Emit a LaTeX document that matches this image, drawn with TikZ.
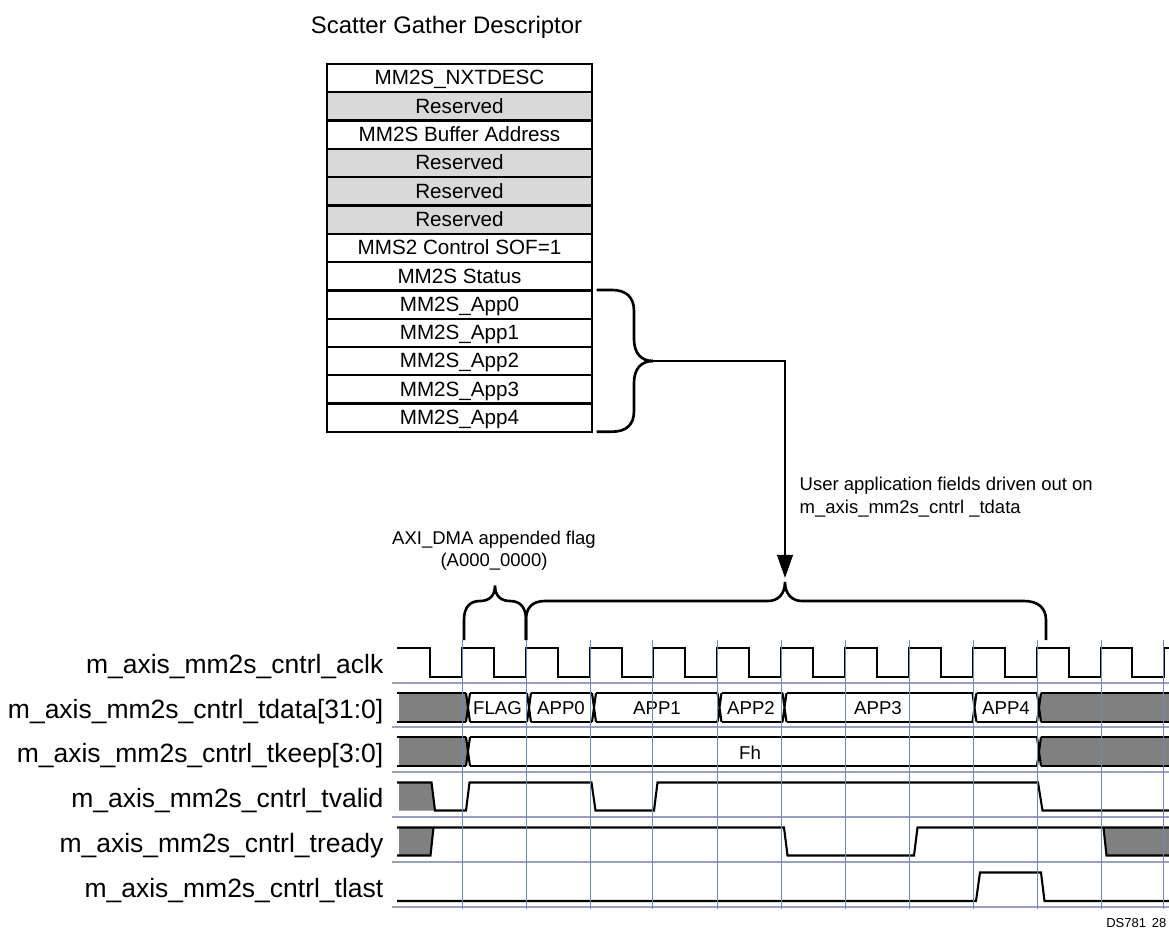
\documentclass[tikz,border=0pt]{standalone}
\usepackage{fontspec}
\setmainfont{Liberation Sans}
\usetikzlibrary{arrows.meta}
\definecolor{gridblue}{HTML}{6F87C4}
\definecolor{gridgrey}{HTML}{9C9FBF}
\definecolor{undefgrey}{HTML}{808080}
\definecolor{resgrey}{HTML}{D9D9D9}
\tikzset{
    rowbox/.style={draw=black, line width=0.65pt, minimum width=2.65cm, minimum height=0.283cm, inner sep=0pt, text height=0.135cm, text depth=0pt, font=\fontsize{5.87}{7}\selectfont},
    sig/.style={line width=0.6pt, black},
    brace/.style={line width=0.75pt, black},
    siglabel/.style={anchor=base east, inner sep=0pt, font=\fontsize{7.53}{9}\selectfont},
    buslabel/.style={inner sep=0pt, text height=0.135cm, text depth=0pt, font=\fontsize{5.3}{6.3}\selectfont},
    note/.style={inner sep=0pt, font=\fontsize{5.26}{6.3}\selectfont}
}
\begin{document}
\begin{tikzpicture}[x=0.01cm, y=-0.01cm]
        \useasboundingbox (0,0) rectangle (1169,930);

        \node[anchor=base, inner sep=0pt, font=\fontsize{6.8}{8}\selectfont] (title) at (446.5,33) {Scatter Gather Descriptor};

        % Descriptor table
        \foreach \txt/\col [count=\i from 0] in {MM2S\_NXTDESC/white, Reserved/resgrey, MM2S Buffer Address/white, Reserved/resgrey, Reserved/resgrey, Reserved/resgrey, MMS2 Control SOF=1/white, MM2S Status/white, MM2S\_App0/white, MM2S\_App1/white, MM2S\_App2/white, MM2S\_App3/white, MM2S\_App4/white} {
             \node[rowbox, fill=\col] (row\i) at (459.5, 64+\i*28.3+14.15) {\txt};
        }

        % Brace of the App fields
        \coordinate (appmid) at (653,361);
        \coordinate (fieldtip) at (785,578);
        \draw[brace] (596.5,290) -- (612,290) .. controls (626,290) and (634,297) .. (634,311) -- (634,339) .. controls (634,353) and (641,361) .. (appmid);
        \draw[brace] (596.5,431.7) -- (612,431.7) .. controls (626,431.7) and (634,425) .. (634,411) -- (634,383) .. controls (634,369) and (641,361) .. (appmid);
        \draw[line width=0.7pt, -{Triangle[width=0.155cm, length=0.23cm]}] (appmid) -| (fieldtip);

        \node[note, anchor=base west] (usernote) at (799,490) {User application fields driven out on};
        \node[note, anchor=base west] (usernote2) at (799,513) {m\_axis\_mm2s\_cntrl \_tdata};
        \node[note, anchor=base] (flagnote) at (494,544) {AXI\_DMA appended flag};
        \node[note, anchor=base] (flagnote2) at (494,566) {(A000\_0000)};

        % Braces above the clock
        \draw[brace] (464,640) -- (464,620) .. controls (464,607) and (470,601) .. (480,601) .. controls (488,601) and (495,597) .. (495,585.5) .. controls (495,597) and (502,601) .. (510,601) .. controls (520,601) and (526,607) .. (526,620) -- (526,640);
        \draw[brace] (526,640) -- (526,620) .. controls (526,608) and (532,601) .. (545,601) -- (768,601) .. controls (778,601) and (785,594) .. (785,582) .. controls (785,594) and (792,601) .. (802,601) -- (1024,601) .. controls (1038,601) and (1046,608) .. (1046,620) -- (1046,640);

        % Signal names
        \foreach \n/\txt/\y in {aclk/m\_axis\_mm2s\_cntrl\_aclk/673, tdata/m\_axis\_mm2s\_cntrl\_tdata[31:0]/718, tkeep/m\_axis\_mm2s\_cntrl\_tkeep[3:0]/762, tvalid/m\_axis\_mm2s\_cntrl\_tvalid/807, tready/m\_axis\_mm2s\_cntrl\_tready/852, tlast/m\_axis\_mm2s\_cntrl\_tlast/897} {
             \node[siglabel] (lbl\n) at (384,\y) {\txt};
        }

        % Undefined regions
        \foreach \hi/\lo in {693/722, 737/766} {
             \fill[undefgrey] (399,\hi) -- (466,\hi) -- (468,\hi/2+\lo/2) -- (466,\lo) -- (399,\lo) -- cycle;
             \fill[undefgrey] (1169,\hi) -- (1041,\hi) -- (1039,\hi/2+\lo/2) -- (1041,\lo) -- (1169,\lo) -- cycle;
             \draw[sig] (397,\hi) -- (466,\hi) (397,\lo) -- (466,\lo);
             \draw[sig] (1169,\hi) -- (1041,\hi) (1169,\lo) -- (1041,\lo);
             \draw[sig] (466,\hi) -- (470,\lo) (470,\hi) -- (466,\lo);
        }
        \fill[undefgrey] (399,782.5) -- (431.5,782.5) -- (435,810.5) -- (399,810.5) -- cycle;
        \fill[undefgrey] (399,827.5) -- (433.5,827.5) -- (430.5,855.5) -- (399,855.5) -- cycle;
        \fill[undefgrey] (1103.5,827.5) -- (1169,827.5) -- (1169,855.5) -- (1106.5,855.5) -- cycle;

        % Clock
        \draw[sig] (397,648) foreach \f/\r in {430/462, 494/526, 558/590, 622/653, 685/717, 749/781, 813/845, 877/909, 941/973, 1005/1037, 1069/1101, 1132/1164} {-- (\f,648) -- (\f,677) -- (\r,677) -- (\r,648)} -- (1169,648);

        % Bus cells
        \foreach \hi/\lo/\a/\b in {693/722/468/529, 693/722/529/594, 693/722/594/719.5, 693/722/719.5/784.5, 693/722/784.5/974.5, 693/722/974.5/1039, 737/766/468/1039} {
             \draw[sig] (\a+2,\hi) -- (\b-2,\hi) (\a+2,\lo) -- (\b-2,\lo);
             \draw[sig] (\b-2,\hi) -- (\b+2,\lo) (\b+2,\hi) -- (\b-2,\lo);
        }
        \foreach \n/\x in {FLAG/497.5, APP0/561, APP1/657, APP2/751, APP3/878, APP4/1006} {
             \node[buslabel] (cell\n) at (\x,707.5) {\n};
        }
        \node[buslabel] (cellFh) at (750,753) {Fh};

        % Single wires
        \draw[sig] (397,782.5) -- (431.5,782.5) -- (435,810.5) -- (466,810.5) -- (469.5,782.5) -- (591.5,782.5) -- (595.5,810.5) -- (654,810.5) -- (657.5,782.5) -- (1038,782.5) -- (1042.5,810.5) -- (1169,810.5);
        \draw[sig] (397,855.5) -- (430.5,855.5) -- (433.5,827.5);
        \draw[sig] (397,827.5) -- (784,827.5) -- (787.5,855.5) -- (914,855.5) -- (917.5,827.5) -- (1169,827.5);
        \draw[sig] (1103.5,827.5) -- (1106.5,855.5) -- (1169,855.5);
        \draw[sig] (397,901) -- (976,901) -- (980,872.5) -- (1041,872.5) -- (1044.5,901) -- (1169,901);

        % Grid
        \foreach \y in {682.7, 727.3, 772.3, 817.3, 862, 906.7} {
             \draw[gridgrey, line width=0.5pt] (392,\y) -- (1169,\y);
        }
        \foreach \x in {462, 526, 590, 652.5, 717, 781, 845, 909, 973, 1037, 1101, 1163.5} {
             \draw[gridblue, line width=0.26pt] (\x,640) -- (\x,909);
        }

        \node[anchor=base east, inner sep=0pt, font=\fontsize{3.7}{4.5}\selectfont] (dsnum) at (1167,927) {DS781 \,28};
\end{tikzpicture}
\end{document}
